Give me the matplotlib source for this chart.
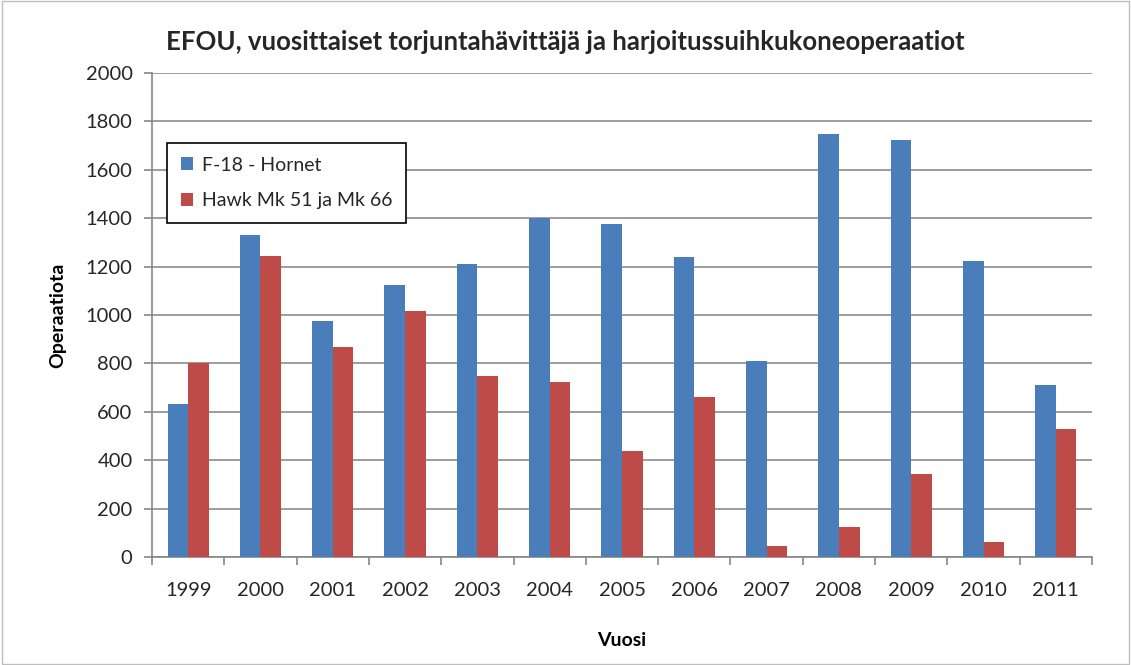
import matplotlib
matplotlib.use("Agg")
import matplotlib.pyplot as plt
import numpy as np

plt.rcParams['font.family'] = ['Lato', 'DejaVu Sans']
plt.rcParams['text.color'] = '#262626'
plt.rcParams['xtick.labelcolor'] = '#262626'
plt.rcParams['ytick.labelcolor'] = '#262626'

years = ['1999', '2000', '2001', '2002', '2003', '2004', '2005',
         '2006', '2007', '2008', '2009', '2010', '2011']
hornet = [632, 1330, 975, 1123, 1210, 1400, 1378, 1238, 810, 1748, 1725, 1222, 712]
hawk = [802, 1245, 868, 1018, 748, 725, 440, 660, 47, 126, 343, 61, 528]
labels = ['F-18 - Hornet', 'Hawk Mk 51 ja Mk 66']
colors = ['#4A7EBB', '#BE4B48']

fig = plt.figure(figsize=(11.31, 6.65), dpi=100)
ax = fig.add_axes([152 / 1131, 1 - 557 / 665, 940 / 1131, 484 / 665])

x = np.arange(len(years))
w = 0.285
ax.bar(x - w / 2, hornet, w, color=colors[0], label=labels[0], zorder=3)
ax.bar(x + w / 2, hawk, w, color=colors[1], label=labels[1], zorder=3)

ax.set_xlim(-0.5, len(years) - 0.5)
ax.set_ylim(0, 2000)
ax.set_yticks(range(0, 2001, 200))
ax.set_xticks(x)
ax.set_xticklabels(years)
ax.set_xticks(np.arange(-0.5, len(years), 1), minor=True)
ax.tick_params(axis='x', which='major', length=0, pad=18, labelsize=14.5)
ax.tick_params(axis='x', which='minor', length=6, color='#868686', width=1.2)
ax.tick_params(axis='y', length=6, color='#868686', width=1.2, labelsize=14.5, pad=8)
ax.grid(axis='y', color='#8c8c8c', linewidth=1.2, zorder=0)

for s in ['top', 'right']:
    ax.spines[s].set_visible(False)
for s in ['left', 'bottom']:
    ax.spines[s].set_color('#868686')
    ax.spines[s].set_linewidth(1.2)

ax.set_xlabel('Vuosi', fontsize=14, fontweight='bold', labelpad=24)
ax.set_ylabel('Operaatiota', fontsize=14, fontweight='bold', labelpad=14)
fig.text(0.5, 1 - 42 / 665, 'EFOU, vuosittaiset torjuntahävittäjä ja harjoitussuihkukoneoperaatiot',
         ha='center', va='center', fontsize=18.5, fontweight='bold')

leg = ax.legend(loc='upper left', bbox_to_anchor=(15 / 940, 1 - 70 / 484), fontsize=14,
                frameon=True, fancybox=False, edgecolor='black', framealpha=1,
                handlelength=0.65, handleheight=0.65, labelspacing=0.95,
                borderpad=0.7, handletextpad=0.45, borderaxespad=0)
leg.get_frame().set_linewidth(1.2)

fig.patches.append(plt.Rectangle((0.002, 0.002), 0.996, 0.996, transform=fig.transFigure,
                                 fill=False, edgecolor='#bdbdbd', linewidth=1))

fig.savefig('out.png', dpi=100)
